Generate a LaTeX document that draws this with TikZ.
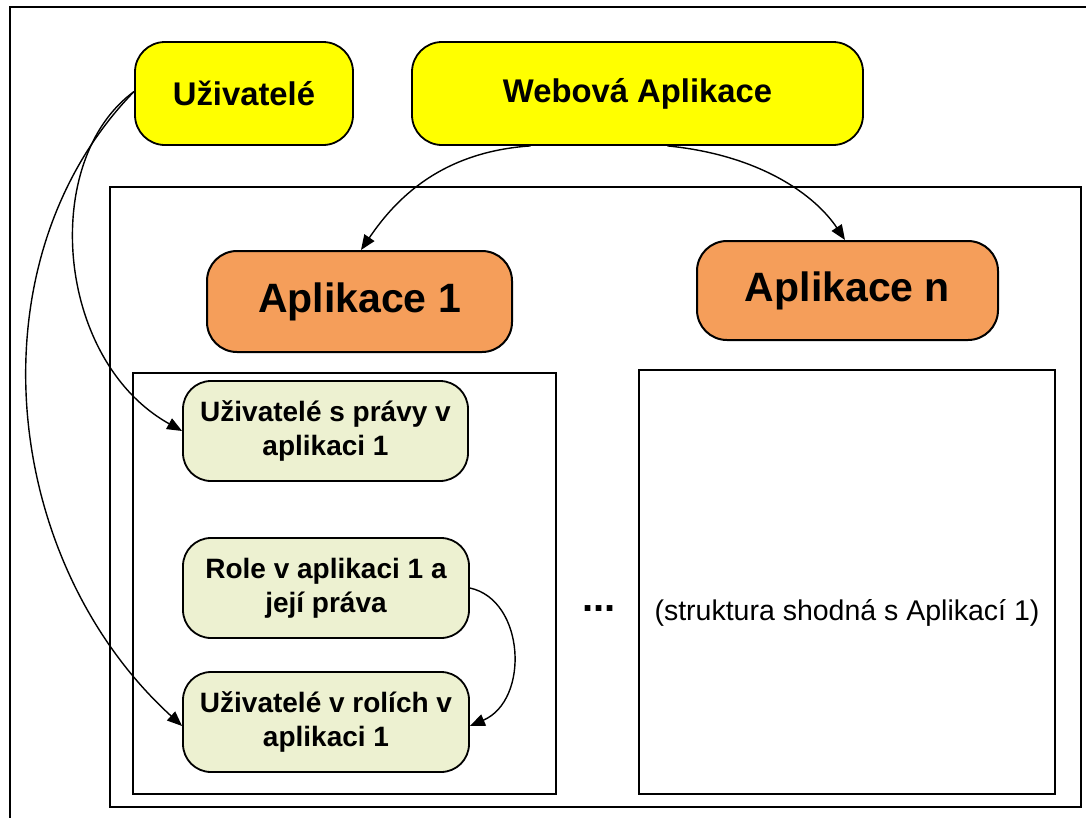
\documentclass[tikz,border=0pt]{standalone}
\usepackage{fontspec}
\setmainfont{Liberation Sans}
\usetikzlibrary{arrows.meta,calc}
\definecolor{ylw}{HTML}{FFFF00}
\definecolor{org}{HTML}{F59E5A}
\definecolor{grn}{HTML}{EDF1D1}
\tikzset{
  frame/.style={draw=black,line width=2.4pt},
  boxbase/.style={draw=black,line width=1.8pt,rounded corners=30pt,inner sep=0pt,align=center},
  ybox/.style={boxbase,fill=ylw,font=\bfseries\fontsize{32.8}{39}\selectfont},
  obox/.style={boxbase,fill=org,line width=2pt,font=\bfseries\fontsize{41}{48}\selectfont},
  gbox/.style={boxbase,fill=grn,rounded corners=28pt,font=\bfseries\fontsize{28}{34}\selectfont},
  arr/.style={draw=black,line width=1.4pt,-{Triangle[length=15pt,width=12pt]}},
}
\begin{document}
\begin{tikzpicture}[x=1pt,y=-1pt]
\useasboundingbox (0,0) rectangle (1086,817);
\fill[white] (0,0) rectangle (1086,817);
% frames
\draw[frame] (10,7) rectangle (1110,840);
\draw[frame] (110,187) rectangle (1081,807);
\draw[frame,line width=2pt] (133,373) rectangle (556,794);
\draw[frame,line width=2pt] (639,370) rectangle (1055,794);
% nodes
\node[ybox,minimum width=218pt,minimum height=103pt] (uziv) at (244,93.5) {Uživatelé};
\node[ybox,minimum width=451pt,minimum height=103pt] (web) at (637.5,93.5) {Webová Aplikace};
\node[obox,minimum width=305pt,minimum height=101pt] (app1) at (359.5,301.5) {Aplikace 1};
\node[obox,minimum width=301pt,minimum height=99pt] (appn) at (847.5,290.5) {Aplikace n};
\node[gbox,minimum width=285pt,minimum height=100pt] (u1) at (325.5,431) {Uživatelé s právy v\\aplikaci 1};
\node[gbox,minimum width=286pt,minimum height=100pt] (role) at (326,588) {Role v aplikaci 1 a\\její práva};
\node[gbox,minimum width=286pt,minimum height=100pt] (ur) at (326,722) {Uživatelé v rolích v\\aplikaci 1};
\node[font=\bfseries\fontsize{40}{46}\selectfont,inner sep=0pt] (dots) at (599,609) {...};
\node[font=\fontsize{28.5}{34}\selectfont,inner sep=0pt] (struk) at (847,613) {(struktura shodná s Aplikací 1)};
% connectors
\coordinate (ws1) at ([xshift=-107pt]web.south);
\coordinate (ws2) at ([xshift=30pt]web.south);
\coordinate (a1t) at ([xshift=1.5pt]app1.north);
\coordinate (ant) at ([xshift=-2.5pt]appn.north);
\draw[arr] (ws1) .. controls (440,152) and (395,200) .. (a1t);
\draw[arr] (ws2) .. controls (760,155) and (815,195) .. (ant);
\coordinate (uw) at ([yshift=2pt]uziv.west);
\coordinate (u1w) at (u1.west);
\coordinate (urw) at ([yshift=-4pt]ur.west);
\draw[arr] (uw) .. controls (40,160) and (55,360) .. (u1w);
\draw[arr] (uw) .. controls (-30,260) and (0,560) .. (urw);
\coordinate (re) at (role.east);
\coordinate (ure) at ([yshift=-4pt]ur.east);
\draw[arr] (re) .. controls (525,600) and (530,700) .. (ure);
\end{tikzpicture}
\end{document}
